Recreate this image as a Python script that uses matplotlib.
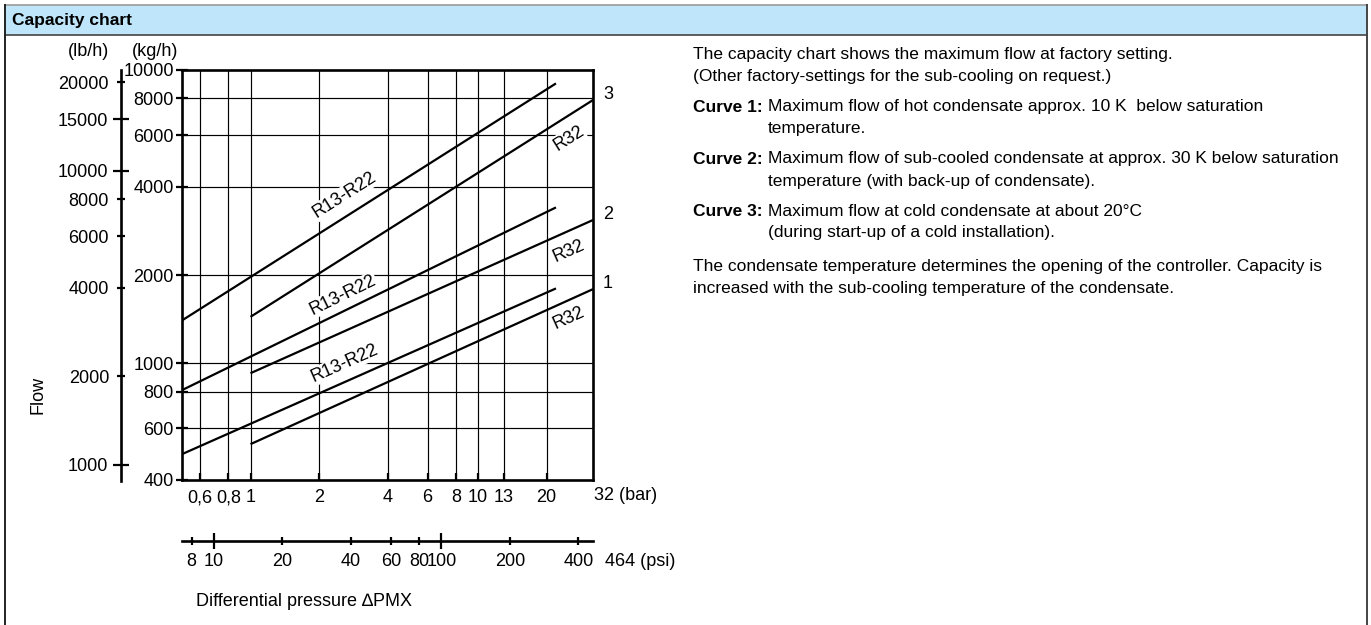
import matplotlib
matplotlib.use("Agg")
import matplotlib.pyplot as plt
from matplotlib.lines import Line2D
from matplotlib.patches import Rectangle
from matplotlib.ticker import FixedLocator, FixedFormatter, NullLocator
import numpy as np

# Canvas size in pixels (dpi 100).
W, H = 1371, 625

# Unit conversions for the secondary scales.
KG_TO_LB = 2.20462
BAR_TO_PSI = 14.5038

# Axis ranges.
BAR_RANGE = [0.5, 32]
FLOW_RANGE = [400, 10000]

# Curve end points (pressure in bar, flow in kg/h).
R13_PRESSURE = [0.5, 22]
R32_PRESSURE = [1, 32]
CURVE3_R13 = [1400, 9000]
CURVE3_R32 = [1440, 7900]
CURVE2_R13 = [810, 3400]
CURVE2_R32 = [925, 3080]
CURVE1_R13 = [490, 1800]
CURVE1_R32 = [530, 1790]
CURVE_IDS = ["3", "2", "1"]

# Tick positions and labels.
BAR_TICKS = [0.6, 0.8, 1, 2, 4, 6, 8, 10, 13, 20]
BAR_LABELS = ["0,6", "0,8", "1", "2", "4", "6", "8", "10", "13", "20"]
PSI_MAJOR = [10, 100]
PSI_MINOR = [8, 20, 40, 60, 80, 200, 400]
KG_TICKS = [400, 600, 800, 1000, 2000, 4000, 6000, 8000, 10000]
LB_MAJOR = [1000, 10000, 15000]
LB_MINOR = [2000, 4000, 6000, 8000, 20000]

# Description text on the right.
INTRO = [
    "The capacity chart shows the maximum flow at factory setting.",
    "(Other factory-settings for the sub-cooling on request.)",
]
CURVE_TEXT = [
    ("Curve 1:", ["Maximum flow of hot condensate approx. 10 K  below saturation",
                  "temperature."]),
    ("Curve 2:", ["Maximum flow of sub-cooled condensate at approx. 30 K below saturation",
                  "temperature (with back-up of condensate)."]),
    ("Curve 3:", ["Maximum flow at cold condensate at about 20°C",
                  "(during start-up of a cold installation)."]),
]
OUTRO = [
    "The condensate temperature determines the opening of the controller. Capacity is",
    "increased with the sub-cooling temperature of the condensate.",
]

TICK_FONT = "Liberation Sans"
NARROW_FONT = ["Liberation Sans Narrow", "Liberation Sans", "DejaVu Sans"]


def fx(x):
    return x / W


def fy(y):
    return 1 - y / H


def fig_line(fig, x0, y0, x1, y1, color, lw):
    fig.add_artist(Line2D([fx(x0), fx(x1)], [fy(y0), fy(y1)], color=color, lw=lw,
                          transform=fig.transFigure, solid_capstyle="butt"))


def axes_rect(left, top, right, bottom):
    return [fx(left), fy(bottom), fx(right) - fx(left), fy(top) - fy(bottom)]


fig = plt.figure(figsize=(W / 100, H / 100), dpi=100)
plt.rcParams["font.family"] = [TICK_FONT, "DejaVu Sans"]

# Panel header and frame.
fig.add_artist(Rectangle((fx(4), fy(35)), fx(1367) - fx(4), fy(5) - fy(35),
                         transform=fig.transFigure, facecolor="#bee5f9", edgecolor="none"))
fig_line(fig, 4, 4.5, 1367, 4.5, "#9a9a9a", 1.2)
fig_line(fig, 4, 35, 1367, 35, "#444444", 1.2)
fig_line(fig, 4.5, 4, 4.5, 625, "#222222", 1.4)
fig_line(fig, 1366.5, 4, 1366.5, 625, "#444444", 1.4)
fig.text(fx(12), fy(20), "Capacity chart", family=NARROW_FONT, fontweight="bold",
         fontsize=12.5, va="center", ha="left")

# Main chart: flow (kg/h) against differential pressure (bar).
ax = fig.add_axes(axes_rect(182, 70, 593, 480))
ax.set_xscale("log")
ax.set_yscale("log")
ax.set_xlim(*BAR_RANGE)
ax.set_ylim(*FLOW_RANGE)
for s in ax.spines.values():
    s.set_linewidth(1.9)
for b in BAR_TICKS:
    ax.axvline(b, color="black", lw=0.85, zorder=1)
for k in KG_TICKS[1:-1]:
    ax.axhline(k, color="black", lw=0.85, zorder=1)

ax.xaxis.set_major_locator(FixedLocator(BAR_TICKS))
ax.xaxis.set_major_formatter(FixedFormatter(BAR_LABELS))
ax.xaxis.set_minor_locator(NullLocator())
ax.yaxis.set_major_locator(FixedLocator(KG_TICKS))
ax.yaxis.set_major_formatter(FixedFormatter([str(k) for k in KG_TICKS]))
ax.yaxis.set_minor_locator(NullLocator())
ax.tick_params(axis="x", direction="in", length=5, width=1.6, pad=6.5, labelsize=13)
ax.tick_params(axis="y", direction="inout", length=9, width=1.6, pad=1.5, labelsize=13)
ax.annotate("32 (bar)", xy=(BAR_RANGE[1], 0), xycoords=("data", "axes fraction"),
            xytext=(1, -16), textcoords="offset pixels", fontsize=13,
            ha="left", va="center", annotation_clip=False)

curves = [
    (CURVE3_R13, CURVE3_R32, (2.6, 3750), (25, 5860)),
    (CURVE2_R13, CURVE2_R32, (2.55, 1710), (25, 2420)),
    (CURVE1_R13, CURVE1_R32, (2.6, 1000), (25, 1430)),
]


def pixel_angle(xs, ys):
    p = ax.transData.transform(np.column_stack([xs, ys]))
    return np.degrees(np.arctan2(p[1, 1] - p[0, 1], p[1, 0] - p[0, 0]))


for cid, (r13, r32, r13_at, r32_at) in zip(CURVE_IDS, curves):
    ax.plot(R13_PRESSURE, r13, color="black", lw=1.6, solid_capstyle="butt", zorder=3)
    ax.plot(R32_PRESSURE, r32, color="black", lw=1.6, solid_capstyle="butt", zorder=3)
    ax.text(*r13_at, "R13-R22", rotation=pixel_angle(R13_PRESSURE, r13), fontsize=13,
            ha="center", va="center", rotation_mode="anchor", zorder=4,
            bbox=dict(facecolor="white", edgecolor="none", pad=0.5))
    ax.text(*r32_at, "R32", rotation=pixel_angle(R32_PRESSURE, r32), fontsize=13,
            ha="center", va="center", rotation_mode="anchor", zorder=4,
            bbox=dict(facecolor="white", edgecolor="none", pad=0.5))
    ax.annotate(cid, xy=(R32_PRESSURE[1], r32[1]), xytext=(10, 6), textcoords="offset pixels",
                fontsize=13, ha="left", va="center", annotation_clip=False)

# Secondary flow scale in lb/h.
ax_lb = fig.add_axes(axes_rect(120.7, 70, 121.7, 480.7))
ax_lb.set_yscale("log")
ax_lb.set_ylim(FLOW_RANGE[0] * KG_TO_LB, FLOW_RANGE[1] * KG_TO_LB)
ax_lb.patch.set_visible(False)
for name, s in ax_lb.spines.items():
    s.set_visible(name == "left")
ax_lb.spines["left"].set_linewidth(1.9)
ax_lb.set_xticks([])
ax_lb.yaxis.set_major_locator(FixedLocator(LB_MAJOR))
ax_lb.yaxis.set_major_formatter(FixedFormatter([str(v) for v in LB_MAJOR]))
ax_lb.yaxis.set_minor_locator(FixedLocator(LB_MINOR))
ax_lb.yaxis.set_minor_formatter(FixedFormatter([str(v) for v in LB_MINOR]))
ax_lb.tick_params(axis="y", which="major", direction="inout", length=11, width=1.6,
                  pad=3.4, labelsize=13)
ax_lb.tick_params(axis="y", which="minor", direction="inout", length=5.5, width=1.6,
                  pad=5.6, labelsize=13)

# Secondary pressure scale in psi.
ax_psi = fig.add_axes(axes_rect(182, 540, 593, 541))
ax_psi.set_xscale("log")
ax_psi.set_xlim(BAR_RANGE[0] * BAR_TO_PSI, BAR_RANGE[1] * BAR_TO_PSI)
ax_psi.patch.set_visible(False)
for name, s in ax_psi.spines.items():
    s.set_visible(name == "bottom")
ax_psi.spines["bottom"].set_linewidth(1.9)
ax_psi.set_yticks([])
ax_psi.xaxis.set_major_locator(FixedLocator(PSI_MAJOR))
ax_psi.xaxis.set_major_formatter(FixedFormatter([str(v) for v in PSI_MAJOR]))
ax_psi.xaxis.set_minor_locator(FixedLocator(PSI_MINOR))
ax_psi.xaxis.set_minor_formatter(FixedFormatter([str(v) for v in PSI_MINOR]))
ax_psi.tick_params(axis="x", which="major", direction="inout", length=11, width=1.6,
                   pad=3.5, labelsize=13)
ax_psi.tick_params(axis="x", which="minor", direction="inout", length=6, width=1.6,
                   pad=5.5, labelsize=13)
ax_psi.annotate("464 (psi)", xy=(BAR_RANGE[1] * BAR_TO_PSI, 0), xycoords=("data", "axes fraction"),
                xytext=(12, -20), textcoords="offset pixels", fontsize=13,
                ha="left", va="center", annotation_clip=False)

# Axis titles.
fig.text(fx(88), fy(51), "(lb/h)", fontsize=13, ha="center", va="center")
fig.text(fx(155), fy(51), "(kg/h)", fontsize=13, ha="center", va="center")
fig.text(fx(38), fy(395), "Flow", fontsize=13, rotation=90, ha="center", va="center")
fig.text(fx(196), fy(602), "Differential pressure \u2206PMX", fontsize=13,
         ha="left", va="center")

# Right-hand description.
TEXT_X, INDENT_X = 693, 768
BODY_SIZE = 12.5
renderer = fig.canvas.get_renderer()
y = 55
for line in INTRO:
    fig.text(fx(TEXT_X), fy(y), line, family=NARROW_FONT, fontsize=BODY_SIZE, va="center")
    y += 22
y += 8
for head, body in CURVE_TEXT:
    h = fig.text(fx(TEXT_X), fy(y), head, family=NARROW_FONT, fontweight="bold",
                 fontsize=BODY_SIZE, va="center")
    head_end = h.get_window_extent(renderer).x1 + 5
    body_x = max(INDENT_X, head_end)
    for line in body:
        fig.text(fx(body_x), fy(y), line, family=NARROW_FONT, fontsize=BODY_SIZE, va="center")
        y += 22
    y += 8
y += 4
for line in OUTRO:
    fig.text(fx(TEXT_X), fy(y), line, family=NARROW_FONT, fontsize=BODY_SIZE, va="center")
    y += 21

fig.savefig("out.png", dpi=100)
